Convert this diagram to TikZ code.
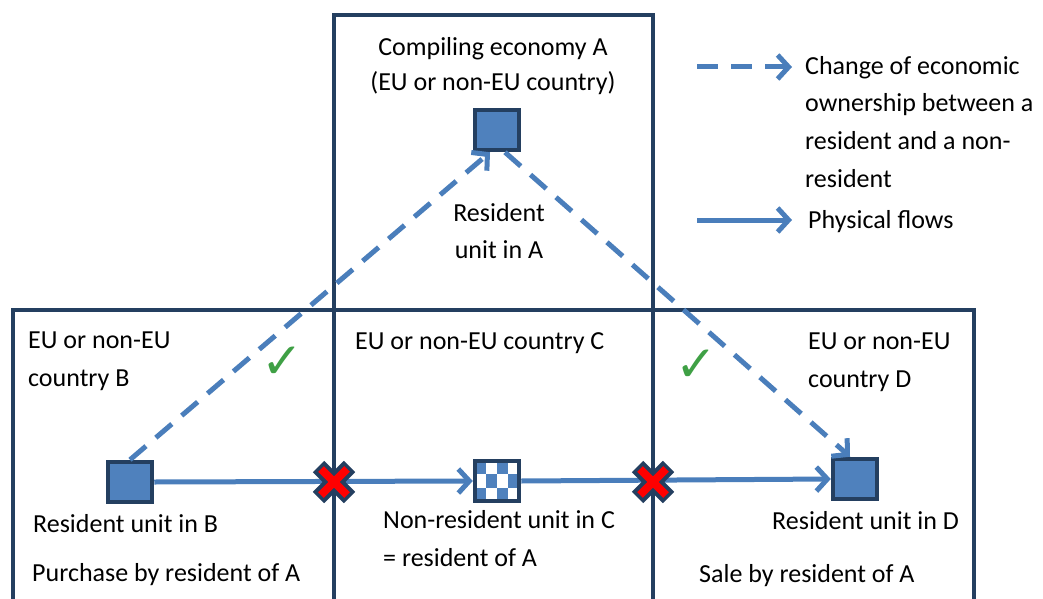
\documentclass[tikz,border=0pt]{standalone}
\usepackage{fontspec}
\setmainfont{Carlito}
\newfontfamily\symfont{DejaVu Sans}
\usetikzlibrary{arrows.meta}
\definecolor{navy}{HTML}{243F60}
\definecolor{lblue}{HTML}{4A7EBB}
\definecolor{sqblue}{HTML}{4F81BD}
\definecolor{ckgreen}{HTML}{3FA045}
\definecolor{xred}{HTML}{FF0000}
\tikzset{
  frame/.style={draw=navy, line width=4.5pt},
  unitsq/.style={draw=navy, fill=sqblue, line width=4.5pt, minimum width=44pt, minimum height=40pt, inner sep=0pt},
  checksq/.style={draw=navy, fill=white, line width=4.5pt, minimum width=44pt, minimum height=40pt, inner sep=0pt,
    path picture={\foreach \i/\j in {0/0,2/0,1/1,3/1,0/2,2/2}
      \fill[sqblue] ([shift={(-22+11*\i,-20+13.34*\j)}]path picture bounding box.center) rectangle ++(11,13.34);}},
  flow/.style={draw=lblue, line width=5pt, -{Straight Barb[length=11pt,width=24pt,line width=5pt]}},
  owner/.style={flow, dash pattern=on 21pt off 13pt},
  txt/.style={font=\fontsize{26}{37}\selectfont, inner sep=0pt, anchor=base west},
  txtc/.style={font=\fontsize{26}{37}\selectfont, inner sep=0pt, anchor=base},
  tick/.style={font=\symfont\fontsize{50}{50}\selectfont, text=ckgreen, inner sep=0pt},
}
\begin{document}
\begin{tikzpicture}[x=1pt,y=-1pt]
\useasboundingbox (0,0) rectangle (1043,599);
% frames
\draw[frame] (13,599) -- (13,310) -- (974,310) -- (974,599);
\draw[frame] (334,599) -- (334,15) -- (653,15) -- (653,599);
% units
\node[unitsq] (A) at (497,130) {};
\node[unitsq] (B) at (130,482) {};
\node[checksq] (C) at (497,481) {};
\node[unitsq] (D) at (855,479) {};
% physical flows
\draw[flow] (B.east) -- (C.west);
\draw[flow] (C.east) -- (D.west);
% ownership changes
\draw[owner] (B.north) -- ([xshift=-7pt]A.south);
\draw[owner] ([xshift=8pt]A.south) -- ([xshift=-5pt]D.north);
% crosses
\foreach \n/\cx in {x1/334,x2/653}{
  \coordinate (\n) at (\cx,482);
  \draw[navy, line width=16pt] ([shift={(-15.5,-15.5)}]\n) -- ([shift={(15.5,15.5)}]\n);
  \draw[navy, line width=16pt] ([shift={(-15.5,15.5)}]\n) -- ([shift={(15.5,-15.5)}]\n);
  \draw[xred, line width=8pt] ([shift={(-13,-13)}]\n) -- ([shift={(13,13)}]\n);
  \draw[xred, line width=8pt] ([shift={(-13,13)}]\n) -- ([shift={(13,-13)}]\n);
}
% ticks
\node[tick] (t1) at (282,363) {✓};
\node[tick] (t2) at (696,366) {✓};
% texts: A
\node[txtc] (a1) at (493,56) {Compiling economy A};
\node[txtc] (a2) at (493,91) {(EU or non-EU country)};
\node[txtc] (a3) at (499,221) {Resident};
\node[txtc] (a4) at (499,258) {unit in A};
% B
\node[txt] (b1) at (28,348) {EU or non-EU};
\node[txt] (b2) at (28,386) {country B};
\node[txt] (b3) at (33,532) {Resident unit in B};
\node[txt] (b4) at (32,581) {Purchase by resident of A};
% C
\node[txt] (c1) at (355,349) {EU or non-EU country C};
\node[txt] (c2) at (383,528) {Non-resident unit in C};
\node[txt] (c3) at (383,566) {= resident of A};
% D
\node[txt] (d1) at (808,349) {EU or non-EU};
\node[txt] (d2) at (808,387) {country D};
\node[txt] (d3) at (772,529) {Resident unit in D};
\node[txt] (d4) at (699,582) {Sale by resident of A};
% legend
\coordinate (l1s) at (697,67);
\coordinate (l1e) at (792,67);
\coordinate (l2s) at (697,220);
\coordinate (l2e) at (792,220);
\draw[owner] (l1s) -- (l1e);
\draw[flow] (l2s) -- (l2e);
\node[txt] (g1) at (805,75) {Change of economic};
\node[txt] (g2) at (805,112) {ownership between a};
\node[txt] (g3) at (805,149) {resident and a non-};
\node[txt] (g4) at (805,187) {resident};
\node[txt] (g5) at (808,228) {Physical flows};
\end{tikzpicture}
\end{document}
